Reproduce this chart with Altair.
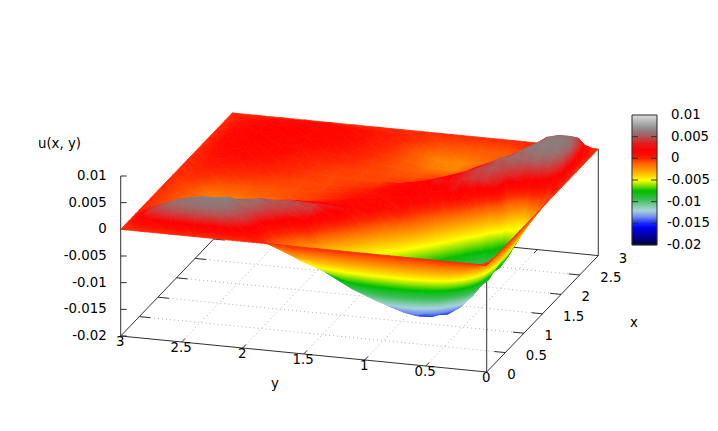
import altair as alt

# grid lines shared by x and y
G = [0, .05, .1, .2, .3, .4, .5, .6, .7, .8, .9, 1.0, 1.2, 1.4, 1.6, 1.8, 2.0, 2.2, 2.4, 2.6, 2.8, 3.0]
# u(x,y), units of 1e-4; surface is nearly mirror-symmetric in x<->y.
# each row: b = max(x,y) fixed, values for a = min(x,y) = G[0..b]
u00 = [0]
u005 = [0, -5]
u01 = [0, -5, -10]
u02 = [0, -9, -18, -32]
u03 = [0, -13, -26, -48, -68]
u04 = [0, -17, -33, -62, -86, -104]
u05 = [0, -19, -38, -72, -100, -122, -136]
u06 = [0, -21, -42, -78, -108, -131, -146, -150]
u07 = [0, -22, -44, -83, -113, -139, -147, -147, -134]
u08 = [0, -22, -44, -85, -116, -135, -141, -129, -108, -82]
u09 = [0, -22, -43, -84, -116, -128, -128, -108, -82, -55, -30]
u10 = [0, -21, -42, -82, -110, -120, -110, -85, -58, -32, -10, 6]
u12 = [0, -19, -38, -70, -92, -92, -68, -40, -15, 2, 13, 16, 12]
u14 = [0, -17, -33, -56, -68, -52, -16, 8, 24, 18, 16, 16, 10, 6]
u16 = [0, -14, -28, -40, -20, 18, 32, 34, 28, 22, 16, 10, 2, 0, -3]
u18 = [0, -4, -10, -2, 18, 34, 42, 38, 30, 22, 14, 4, -4, -5, -6, -6]
u20 = [0, 15, 28, 36, 46, 50, 44, 32, 22, 10, 2, -4, -8, -7, -6, -3, 0]
u22 = [0, 38, 52, 62, 56, 45, 32, 16, 6, -3, -8, -12, -12, -9, -4, 2, 6, 10]
u24 = [0, 44, 56, 60, 50, 38, 22, 2, -6, -12, -14, -20, -18, -9, -1, 7, 12, 16, 18]
u26 = [0, 36, 50, 50, 44, 28, 8, -6, -12, -14, -18, -22, -20, -8, 2, 9, 14, 17, 18, 17]
u28 = [0, 20, 32, 32, 24, 14, 2, -6, -10, -10, -10, -10, -8, -2, 4, 8, 11, 13, 13, 11, 8]
u30 = [0] * 22
U = [u00, u005, u01, u02, u03, u04, u05, u06, u07, u08, u09, u10, u12, u14, u16, u18, u20, u22, u24, u26, u28, u30]
# where the x>y side of the picture departs from the mirror: {(x, y): value}
side = {(0.7, 0.4): -130, (0.7, 0.3): -102, (0.8, 0.3): -102, (0.8, 0.4): -122, (0.9, 0.3): -100,
        (0.9, 0.2): -78, (1.0, 0.3): -100, (0.8, 0.2): -78, (1.4, 0.2): -70, (1.4, 0.3): -75,
        (1.2, 0.2): -78, (1.2, 0.3): -100, (1.6, 0.2): -50, (1.6, 0.3): -30,
        (1.8, 0.1): 5, (1.8, 0.2): 12, (1.8, 0.3): 25, (1.6, 0.4): 22,
        (2.0, 0.05): 22, (2.0, 0.1): 35, (2.0, 0.2): 45,
        (2.2, 0.05): 44, (2.2, 0.1): 58, (2.4, 0.05): 50, (2.4, 0.1): 58,
        (1.6, 0.9): 26, (1.4, 1.0): 20, (1.2, 1.0): 18, (1.4, 1.2): 16, (1.6, 1.0): 18, (1.6, 1.2): 10}

# colour box palette (value in 1e-4, rgb)
PAL = [(-200, (0, 0, 50)), (-185, (0, 0, 130)), (-160, (0, 0, 240)), (-150, (20, 40, 255)),
       (-135, (110, 140, 240)), (-120, (170, 210, 220)), (-110, (130, 205, 170)), (-95, (60, 190, 90)),
       (-75, (0, 190, 0)), (-60, (160, 230, 0)), (-50, (255, 255, 0)), (-35, (255, 190, 0)),
       (-20, (255, 130, 0)), (-10, (255, 90, 0)), (0, (255, 40, 0)), (10, (255, 10, 0)), (20, (255, 0, 0)),
       (35, (225, 30, 30)), (50, (175, 85, 85)), (60, (150, 115, 115)), (73, (150, 150, 150)),
       (100, (220, 220, 220))]
# surface colours: as the box, with the dull tones as they appear on the humps
PAL_S = PAL[:17] + [(30, (225, 40, 40)), (40, (185, 80, 80)), (50, (155, 110, 110)), (60, (138, 125, 125)),
                    (73, (150, 150, 150)), (100, (220, 220, 220))]

z_ticks = [0.01, 0.005, 0, -0.005, -0.01, -0.015, -0.02]
xy_ticks = [0, 0.5, 1, 1.5, 2, 2.5, 3]
xy_labels = ["0", "0.5", "1", "1.5", "2", "2.5", "3"]
z_labels = ["0.01", "0.005", "0", "-0.005", "-0.01", "-0.015", "-0.02"]

W, H = 702, 415
M = 8  # page margin

# view: gnuplot-like orthographic projection, page pixels
def proj(x, y, z):
    """x,y in 0..3; z in data units; returns chart pixels"""
    return (486.7 - 122.0 * y + 37.2 * x - M,
            372.0 - 12.0 * y - 38.8 * x - (z + 0.02) * 5333.0 - M)


def depth(x, y, z):
    return 115 * x + 35 * y - 1833 * z


def colour(v, pal=PAL):
    if v <= pal[0][0]:
        return pal[0][1]
    for (v0, c0), (v1, c1) in zip(pal, pal[1:]):
        if v <= v1:
            t = (v - v0) / (v1 - v0)
            return tuple(round(c0[i] + t * (c1[i] - c0[i])) for i in range(3))
    return pal[-1][1]


def hexc(c):
    return "#%02x%02x%02x" % c


def nz(a):
    a = round(a, 4)
    return a if a != 0 else 1e-5


def gradient(p):
    # p: three (px, py, value); a linear gradient within the triangle's box
    xs = [q[0] for q in p]
    ys = [q[1] for q in p]
    xmin, ymin = min(xs), min(ys)
    w, h = max(max(xs) - xmin, 1e-3), max(max(ys) - ymin, 1e-3)
    uv = [((q[0] - xmin) / w, (q[1] - ymin) / h, q[2]) for q in p]
    zs = [q[2] for q in p]
    lo, hi = min(zs), max(zs)
    (u0, v0, z0), (u1, v1, z1), (u2, v2, z2) = uv
    det = (u1 - u0) * (v2 - v0) - (u2 - u0) * (v1 - v0)
    mean = sum(zs) / 3
    if hi - lo < 1e-6 or abs(det) < 1e-4:
        c = hexc(colour(mean, PAL_S))
        return {"gradient": "linear", "x1": 1e-5, "y1": 1e-5, "x2": 1, "y2": 1e-5,
                "stops": [{"offset": 0, "color": c}, {"offset": 1, "color": c}]}
    a = ((z1 - z0) * (v2 - v0) - (z2 - z0) * (v1 - v0)) / det
    b = ((u1 - u0) * (z2 - z0) - (u2 - u0) * (z1 - z0)) / det
    g2 = a * a + b * b
    lowpt = min(uv, key=lambda q: q[2])
    k = (hi - lo) / g2
    values = [lo] + [v for v, _ in PAL_S if lo < v < hi] + [hi]
    stops = [{"offset": round((v - lo) / (hi - lo), 4), "color": hexc(colour(v, PAL_S))} for v in values]
    return {"gradient": "linear", "x1": nz(lowpt[0]), "y1": nz(lowpt[1]),
            "x2": nz(lowpt[0] + a * k), "y2": nz(lowpt[1] + b * k), "stops": stops}


def u_at(i, j):
    return side.get((G[i], G[j]), U[max(i, j)][min(i, j)])


tris = []
n = len(G)
for i in range(n - 1):
    for j in range(n - 1):
        c = [(i, j), (i + 1, j), (i + 1, j + 1), (i, j + 1)]
        for tri in ((c[0], c[1], c[2]), (c[0], c[2], c[3])):
            pts3 = [(G[a], G[b], u_at(a, b)) for a, b in tri]
            scr = [proj(x, y, v * 1e-4) + (v,) for x, y, v in pts3]
            d = sum(depth(x, y, v * 1e-4) for x, y, v in pts3) / 3
            ring = [[round(q[0], 2), round(q[1], 2)] for q in scr]
            ring.append(ring[0])
            tris.append((d, {"type": "Feature", "properties": {},
                             "geometry": {"type": "Polygon", "coordinates": [ring]},
                             "grad": gradient(scr)}))
tris.sort(key=lambda t: -t[0])
features = [t[1] for t in tris]

XS = alt.Scale(domain=[0, W], range=[0, W])
YS = alt.Scale(domain=[0, H], range=[0, H])
X = alt.X("x:Q", scale=XS, axis=None)
Y = alt.Y("y:Q", scale=YS, axis=None)


def seg(p, q):
    return {"x": round(p[0], 2), "y": round(p[1], 2), "x2": round(q[0], 2), "y2": round(q[1], 2)}


def rules(rows, **kw):
    return alt.Chart(alt.Data(values=rows)).mark_rule(**kw).encode(
        x=X, y=Y, x2=alt.X2("x2:Q"), y2=alt.Y2("y2:Q"))


def texts(rows, **kw):
    return alt.Chart(alt.Data(values=rows)).mark_text(
        font="DejaVu Sans", fontSize=13.3, color="#000000", baseline="middle", **kw
    ).encode(x=X, y=Y, text="t:N")


zb = -0.02
grid = []
for t in xy_ticks[1:-1]:
    grid.append(seg(proj(t, 0, zb), proj(t, 3, zb)))
    grid.append(seg(proj(0, t, zb), proj(3, t, zb)))

box = [
    seg(proj(0, 3, zb), proj(0, 0, zb)),
    seg(proj(0, 0, zb), proj(3, 0, zb)),
    seg(proj(0, 3, zb), proj(3, 3, zb)),
    seg(proj(3, 3, zb), proj(3, 0, zb)),
    seg(proj(0, 0, zb), proj(0, 0, 0)),
    seg(proj(3, 0, zb), proj(3, 0, 0)),
    seg(proj(0, 3, zb), proj(0, 3, 0.01)),
]
for t in xy_ticks[1:-1]:
    box.append(seg(proj(t, 0, zb), proj(t, 0.09, zb)))
    box.append(seg(proj(t, 3, zb), proj(t, 2.91, zb)))
    box.append(seg(proj(0, t, zb), proj(0.09, t, zb)))
    box.append(seg(proj(3, t, zb), proj(2.91, t, zb)))
for t in z_ticks:
    p = proj(0, 3, t)
    box.append(seg(p, (p[0] + 6, p[1])))

surface = alt.Chart(alt.Data(values=features)).mark_geoshape(strokeWidth=0.8).encode(
    fill=alt.Fill("grad:N", scale=None, legend=None),
    stroke=alt.Stroke("grad:N", scale=None, legend=None),
).project(type="identity", scale=1, translate=[0, 0])

# labels
z_text = [{"t": s, "x": proj(0, 3, v)[0] - 14, "y": proj(0, 3, v)[1]} for s, v in zip(z_labels, z_ticks)]
y_text = [{"t": s, "x": proj(0, v, zb)[0] - 0.5, "y": proj(0, v, zb)[1] + 6} for s, v in zip(xy_labels, xy_ticks)]
x_text = [{"t": s, "x": proj(v, 0, zb)[0] + 20.5, "y": proj(v, 0, zb)[1] + 3} for s, v in zip(xy_labels, xy_ticks)]

# colour box
CB_L, CB_R, CB_T, CB_B = 632 - M, 657 - M, 115 - M, 245 - M


def cby(v):
    return CB_B + (v + 0.02) / 0.03 * (CB_T - CB_B)


cb_rows = []
steps = 130
for k in range(steps):
    v0 = -0.02 + 0.03 * k / steps
    v1 = -0.02 + 0.03 * (k + 1) / steps
    cb_rows.append({"x": CB_L, "x2": CB_R, "y": round(cby(v0), 2), "y2": round(cby(v1), 2),
                    "c": hexc(colour((v0 + v1) / 2 * 1e4))})
cbar = alt.Chart(alt.Data(values=cb_rows)).mark_rect(strokeWidth=0.4).encode(
    x=X, y=Y, x2=alt.X2("x2:Q"), y2=alt.Y2("y2:Q"),
    fill=alt.Fill("c:N", scale=None, legend=None),
    stroke=alt.Stroke("c:N", scale=None, legend=None))
cb_lines = [seg((CB_L, CB_T), (CB_R, CB_T)), seg((CB_L, CB_B), (CB_R, CB_B)),
            seg((CB_L, CB_T), (CB_L, CB_B)), seg((CB_R, CB_T), (CB_R, CB_B))]
for v in z_ticks[1:-1]:
    cb_lines.append(seg((CB_L, cby(v)), (CB_L + 6, cby(v))))
    cb_lines.append(seg((CB_R - 6, cby(v)), (CB_R, cby(v))))
cb_text = [{"t": s, "x": (667 if v < 0 else 671) - M, "y": cby(v)} for s, v in zip(z_labels, z_ticks)]

titles = [
    {"t": "u(x, y)", "x": 38 - M, "y": 144 - M},
    {"t": "y", "x": 271 - M, "y": 384 - M},
    {"t": "x", "x": 630 - M, "y": 323 - M},
]

chart = alt.layer(
    rules(grid, color="#b0b0b0", strokeDash=[1, 3], strokeWidth=1),
    rules(box, color="#303030", strokeWidth=1),
    surface,
    cbar,
    rules(cb_lines, color="#303030", strokeWidth=1),
    texts(z_text, align="right"),
    texts(y_text, align="center"),
    texts(x_text, align="left"),
    texts(cb_text, align="left"),
    texts(titles, align="left"),
).properties(width=W, height=H, padding=0, autosize="none").configure_view(stroke=None)

chart.save("out.html", embed_options={"renderer": "svg", "actions": False})
